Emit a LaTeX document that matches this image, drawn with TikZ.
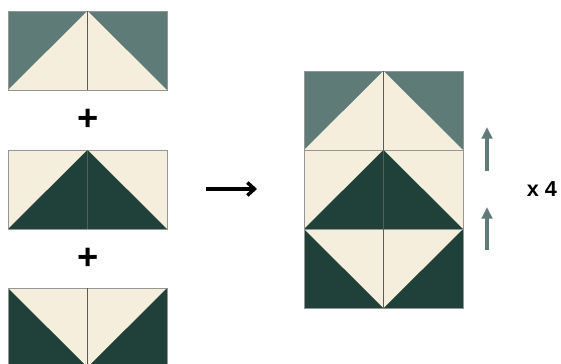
\documentclass[tikz,border=0pt]{standalone}
\usepackage{fontspec}
\setmainfont{Liberation Sans}
\usetikzlibrary{arrows.meta}
\definecolor{geeseteal}{RGB}{95,123,119}
\definecolor{quiltcream}{RGB}{245,238,221}
\definecolor{darkpine}{RGB}{31,65,57}
\definecolor{seamgrey}{RGB}{90,90,88}
\definecolor{edgegrey}{RGB}{150,150,148}

% one flying geese unit, top left corner at (#1,#2)
\newcommand{\geeseup}[4]{%
  \fill[#3] (#1,#2) rectangle ++(159,79);
  \fill[#4] (#1,#2+79) -- (#1+79.5,#2) -- (#1+159,#2+79) -- cycle;
  \draw[edge] (#1,#2) rectangle ++(159,79);
  \draw[seam] (#1+79.5,#2) -- ++(0,79);
}
\newcommand{\geesedown}[4]{%
  \fill[#3] (#1,#2) rectangle ++(159,79);
  \fill[#4] (#1,#2) -- (#1+79.5,#2+79) -- (#1+159,#2) -- cycle;
  \draw[edge] (#1,#2) rectangle ++(159,79);
  \draw[seam] (#1+79.5,#2) -- ++(0,79);
}

\begin{document}
\begin{tikzpicture}[
    x=0.03cm, y=-0.03cm,
    seam/.style={draw=seamgrey, line width=0.8pt},
    edge/.style={draw=edgegrey, line width=0.8pt},
    plus/.style={font=\bfseries\fontsize{31}{31}\selectfont, inner sep=0pt},
    times/.style={font=\bfseries\fontsize{18.5}{18.5}\selectfont, inner sep=0pt},
    bigarrow/.style={-{Straight Barb[length=6pt, width=11pt]}, line width=3pt, black},
    uparrow/.style={-{Triangle[length=10pt, width=9pt]}, line width=3pt, geeseteal}
  ]
  \useasboundingbox (0,0) rectangle (561,363);
  \clip (0,0) rectangle (561,363);

  % units to join
  \geeseup{8}{11}{geeseteal}{quiltcream}
  \geeseup{8}{150}{quiltcream}{darkpine}
  \geesedown{8}{288}{darkpine}{quiltcream}

  \node[plus] (plusa) at (88,120) {+};
  \node[plus] (plusb) at (88,259) {+};

  % sewn block
  \geeseup{304}{71}{geeseteal}{quiltcream}
  \geeseup{304}{150}{quiltcream}{darkpine}
  \geesedown{304}{229}{darkpine}{quiltcream}

  \coordinate (arrowfrom) at (206,189);
  \coordinate (arrowto) at (257,189);
  \draw[bigarrow] (arrowfrom) -- (arrowto);

  \coordinate (pressa) at (487,171);
  \coordinate (pressatip) at (487,127);
  \coordinate (pressb) at (487,250);
  \coordinate (pressbtip) at (487,207);
  \draw[uparrow] (pressa) -- (pressatip);
  \draw[uparrow] (pressb) -- (pressbtip);

  \node[times] (count) at (542,189) {x 4};
\end{tikzpicture}
\end{document}
